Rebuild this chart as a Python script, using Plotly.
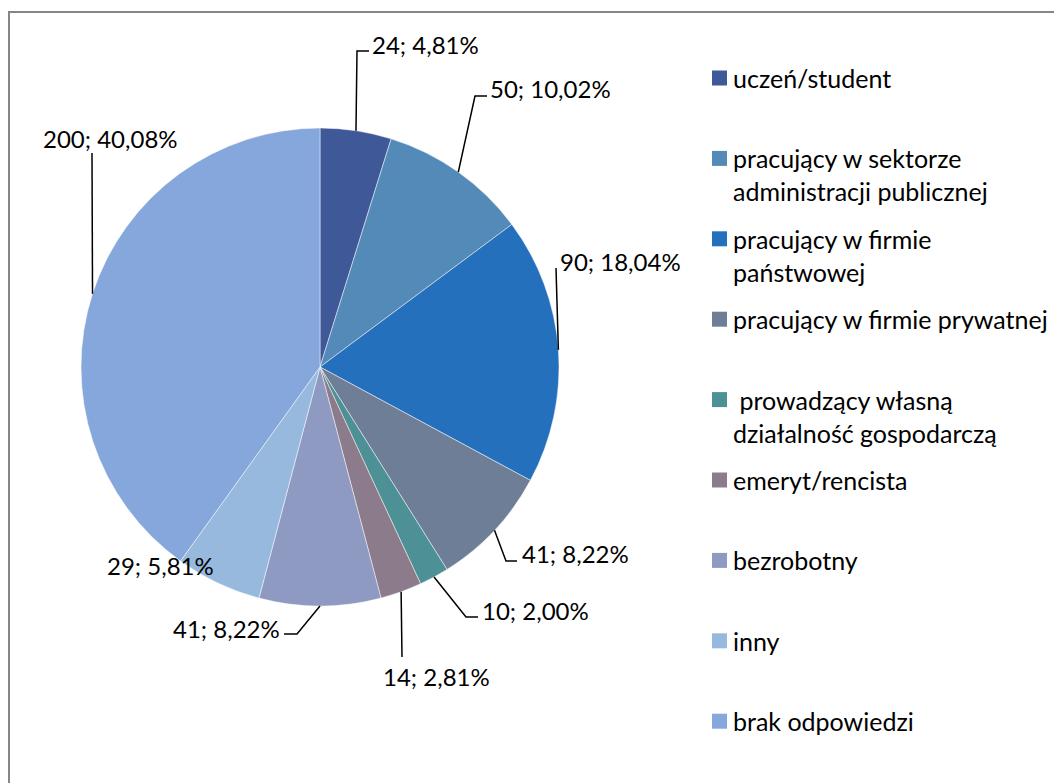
import math

import plotly.graph_objects as go

# --- data -----------------------------------------------------------------
categories = [
    "uczeń/student",
    "pracujący w sektorze<br>administracji publicznej",
    "pracujący w firmie<br>państwowej",
    "pracujący w firmie prywatnej",
    "\u00a0prowadzący własną<br>działalność gospodarczą",
    "emeryt/rencista",
    "bezrobotny",
    "inny",
    "brak odpowiedzi",
]
counts = [24, 50, 90, 41, 10, 14, 41, 29, 200]
percent_labels = ["4,81%", "10,02%", "18,04%", "8,22%", "2,00%",
                  "2,81%", "8,22%", "5,81%", "40,08%"]

COLORS = ["#3F5897", "#548AB8", "#2470BC", "#6E7E96", "#4D9196",
          "#8C7B8A", "#8F9AC2", "#97B9DD", "#86A7DC"]

# --- layout constants (pixels in the final screenshot) ---------------------
W, H = 1062, 783
PAGE_OFFSET = 8  # default body margin of the html page
PIE_CX, PIE_CY, PIE_R = 320, 367, 239
FONT = dict(family="Lato, 'Open Sans', sans-serif", size=24, color="black")
LEGEND_FONT = dict(family="Lato, 'Open Sans', sans-serif", size=25, color="black")

# label centres and leader-line bends for each slice, in pixels
LABEL_POS = [(425, 45), (550, 89), (620, 261), (575, 553), (535, 610),
             (436, 676), (226, 628), (160, 565), (110, 139)]
LEADER_BENDS = [
    [(357, 51), (369, 51)],
    [(475, 96), (487, 96)],
    [(556, 268)],
    [(506, 561), (517, 561)],
    [(466, 617), (478, 617)],
    [(402, 657)],
    [(297, 634), (284, 634)],
    None,
    [(92, 153)],
]

LEGEND_X, LEGEND_Y0, LEGEND_STEP = 712, 78, 80.4


def px(x):
    return (x - PAGE_OFFSET) / W


def py(y):
    return 1 - (y - PAGE_OFFSET) / H


fig = go.Figure(
    go.Pie(
        labels=categories,
        values=counts,
        sort=False,
        direction="clockwise",
        rotation=0,
        marker=dict(colors=COLORS, line=dict(color="rgba(255,255,255,0.6)", width=0.8)),
        textinfo="none",
        hoverinfo="label+value+percent",
        showlegend=False,
        domain=dict(x=[px(PIE_CX - PIE_R), px(PIE_CX + PIE_R)],
                    y=[py(PIE_CY + PIE_R), py(PIE_CY - PIE_R)]),
    )
)

shapes = []
annotations = []

# data labels with leader lines starting at each slice's mid-angle
total = sum(counts)
cum = 0
for i, v in enumerate(counts):
    mid = (cum + v / 2) / total * 2 * math.pi
    cum += v
    ex = PIE_CX + PIE_R * math.sin(mid)
    ey = PIE_CY - PIE_R * math.cos(mid)
    lx, ly = LABEL_POS[i]
    annotations.append(dict(
        x=px(lx), y=py(ly), xref="paper", yref="paper",
        text=f"{v}; {percent_labels[i]}", showarrow=False,
        xanchor="center", yanchor="middle", font=FONT,
    ))
    if LEADER_BENDS[i]:
        pts = [(ex, ey)] + LEADER_BENDS[i]
        path = "M " + " L ".join(f"{px(x)},{py(y)}" for x, y in pts)
        shapes.append(dict(type="path", path=path, xref="paper", yref="paper",
                           line=dict(color="black", width=1.5)))

# hand-drawn legend to mimic the uneven spacing of the original
for i, (name, color) in enumerate(zip(categories, COLORS)):
    cy = LEGEND_Y0 + i * LEGEND_STEP
    shapes.append(dict(type="rect", xref="paper", yref="paper",
                       x0=px(LEGEND_X), x1=px(LEGEND_X + 15),
                       y0=py(cy + 7.5), y1=py(cy - 7.5),
                       fillcolor=color, line=dict(width=0)))
    annotations.append(dict(
        x=px(LEGEND_X + 19), y=py(cy - 17), xref="paper", yref="paper",
        text=name, showarrow=False, align="left",
        xanchor="left", yanchor="top", font=LEGEND_FONT,
    ))

# chart area border (cropped on right and bottom)
shapes.append(dict(type="rect", xref="paper", yref="paper",
                   x0=px(9), x1=1.05, y0=-0.05, y1=py(12),
                   line=dict(color="#868686", width=2)))

fig.update_layout(
    width=W,
    height=H,
    margin=dict(l=0, r=0, t=0, b=0),
    paper_bgcolor="white",
    plot_bgcolor="white",
    shapes=shapes,
    annotations=annotations,
    font=FONT,
)

fig.write_html("out.html")
